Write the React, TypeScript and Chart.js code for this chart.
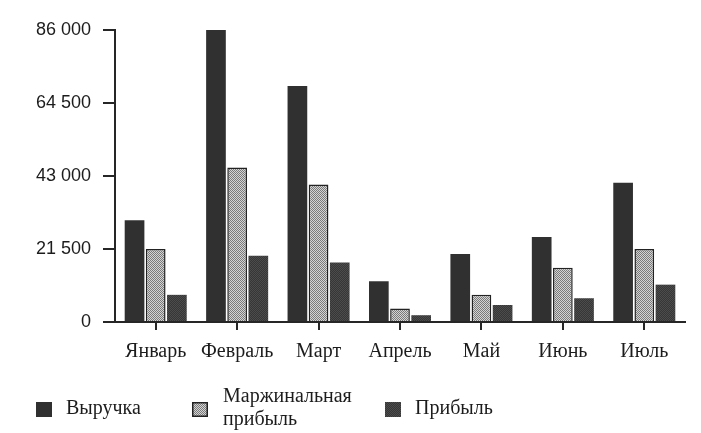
import React, { useEffect, useRef } from 'react';
import { Chart, registerables } from 'chart.js';

Chart.register(...registerables);

const categories = ['Январь', 'Февраль', 'Март', 'Апрель', 'Май', 'Июнь', 'Июль'];
const revenue = [30000, 86000, 69500, 12000, 20000, 25000, 41000];
const marginalProfit = [21500, 45500, 40500, 4000, 8000, 16000, 21500];
const profit = [8000, 19500, 17500, 2000, 5000, 7000, 11000];
const seriesLabels = ['Выручка', 'Маржинальная прибыль', 'Прибыль'];
const yTickValues = [0, 21500, 43000, 64500, 86000];
const yTickLabels = ['0', '21 500', '43 000', '64 500', '86 000'];

const INK = '#262626';
const TEXT = '#1c1c1c';
const SERIF = '"Liberation Serif", "Times New Roman", serif';
const SANS = '"Liberation Sans", Arial, sans-serif';

function makePattern(
  ctx: CanvasRenderingContext2D,
  size: number,
  bg: string,
  fg: string,
  cells: number[][]
): CanvasPattern | string {
  const c = document.createElement('canvas');
  c.width = size;
  c.height = size;
  const x = c.getContext('2d');
  if (!x) return bg;
  x.fillStyle = bg;
  x.fillRect(0, 0, size, size);
  x.fillStyle = fg;
  cells.forEach(([px, py]) => x.fillRect(px, py, 1, 1));
  return ctx.createPattern(c, 'repeat') || bg;
}

const legendPlugin = {
  id: 'bookLegend',
  afterDraw(chart: any) {
    const ctx: CanvasRenderingContext2D = chart.ctx;
    const items = [
      { x: 36, lines: [seriesLabels[0]] },
      { x: 192, lines: ['Маржинальная', 'прибыль'] },
      { x: 385, lines: [seriesLabels[2]] },
    ];
    ctx.save();
    items.forEach((it, i) => {
      const ds = chart.data.datasets[i];
      const bx = it.x;
      const by = 402;
      ctx.fillStyle = ds.backgroundColor;
      ctx.fillRect(bx, by, 16, 15);
      if (ds.borderWidth) {
        ctx.strokeStyle = ds.borderColor;
        ctx.lineWidth = 1.5;
        ctx.strokeRect(bx + 0.75, by + 0.75, 14.5, 13.5);
      }
      ctx.fillStyle = TEXT;
      ctx.font = `20px ${SERIF}`;
      ctx.textBaseline = 'alphabetic';
      ctx.textAlign = 'left';
      if (it.lines.length === 1) {
        ctx.fillText(it.lines[0], bx + 30, 414);
      } else {
        ctx.fillText(it.lines[0], bx + 31, 402);
        ctx.fillText(it.lines[1], bx + 31, 425);
      }
    });
    ctx.restore();
  },
};

export default function App() {
  const ref = useRef<HTMLCanvasElement>(null);

  useEffect(() => {
    document.body.style.margin = '0';
    document.body.style.background = '#ffffff';
    const canvas = ref.current;
    if (!canvas) return;
    const ctx = canvas.getContext('2d');
    if (!ctx) return;

    const marginalFill = makePattern(ctx, 2, '#d4d4d4', '#7a7a7a', [
      [0, 0], [1, 1],
    ]);
    const profitFill = makePattern(ctx, 2, '#363636', '#4c4c4c', [
      [0, 0], [1, 1],
    ]);

    const chart = new Chart(ctx, {
      type: 'bar',
      data: {
        labels: categories,
        datasets: [
          {
            label: seriesLabels[0],
            data: revenue,
            backgroundColor: '#303030',
            borderWidth: 0,
          },
          {
            label: seriesLabels[1],
            data: marginalProfit,
            backgroundColor: marginalFill as any,
            borderColor: '#222222',
            borderWidth: 1.5,
          },
          {
            label: seriesLabels[2],
            data: profit,
            backgroundColor: profitFill as any,
            borderWidth: 0,
          },
        ],
      },
      options: {
        animation: false,
        responsive: false,
        devicePixelRatio: 1,
        layout: { padding: { top: 30, right: 16, bottom: 0, left: 0 } },
        datasets: {
          bar: { categoryPercentage: 0.78, barPercentage: 0.93 },
        },
        plugins: {
          legend: { display: false },
          tooltip: { enabled: false },
        },
        scales: {
          x: {
            offset: true,
            grid: {
              display: true,
              offset: false,
              drawOnChartArea: false,
              drawTicks: true,
              tickLength: 8,
              color: INK,
              lineWidth: 2,
            },
            border: { display: true, color: INK, width: 2 },
            ticks: {
              color: TEXT,
              font: { family: SERIF, size: 20 },
              padding: 10,
              maxRotation: 0,
              autoSkip: false,
            },
            afterFit(scale: any) {
              scale.height = 111;
            },
          },
          y: {
            min: 0,
            max: 86000,
            grid: {
              display: true,
              drawOnChartArea: false,
              drawTicks: true,
              tickLength: 12,
              color: INK,
              lineWidth: 2,
            },
            border: { display: true, color: INK, width: 2 },
            ticks: {
              color: TEXT,
              font: { family: SANS, size: 18 },
              padding: 12,
              callback: (_v: any, i: number) => yTickLabels[i],
            },
            afterBuildTicks(scale: any) {
              scale.ticks = yTickValues.map((v) => ({ value: v }));
            },
            afterFit(scale: any) {
              scale.width = 115;
            },
          },
        },
      },
      plugins: [legendPlugin],
    });

    return () => chart.destroy();
  }, []);

  return (
    <div style={{ width: 701, height: 433, overflow: 'hidden', background: '#fff' }}>
      <canvas ref={ref} width={701} height={433} style={{ display: 'block' }} />
    </div>
  );
}
